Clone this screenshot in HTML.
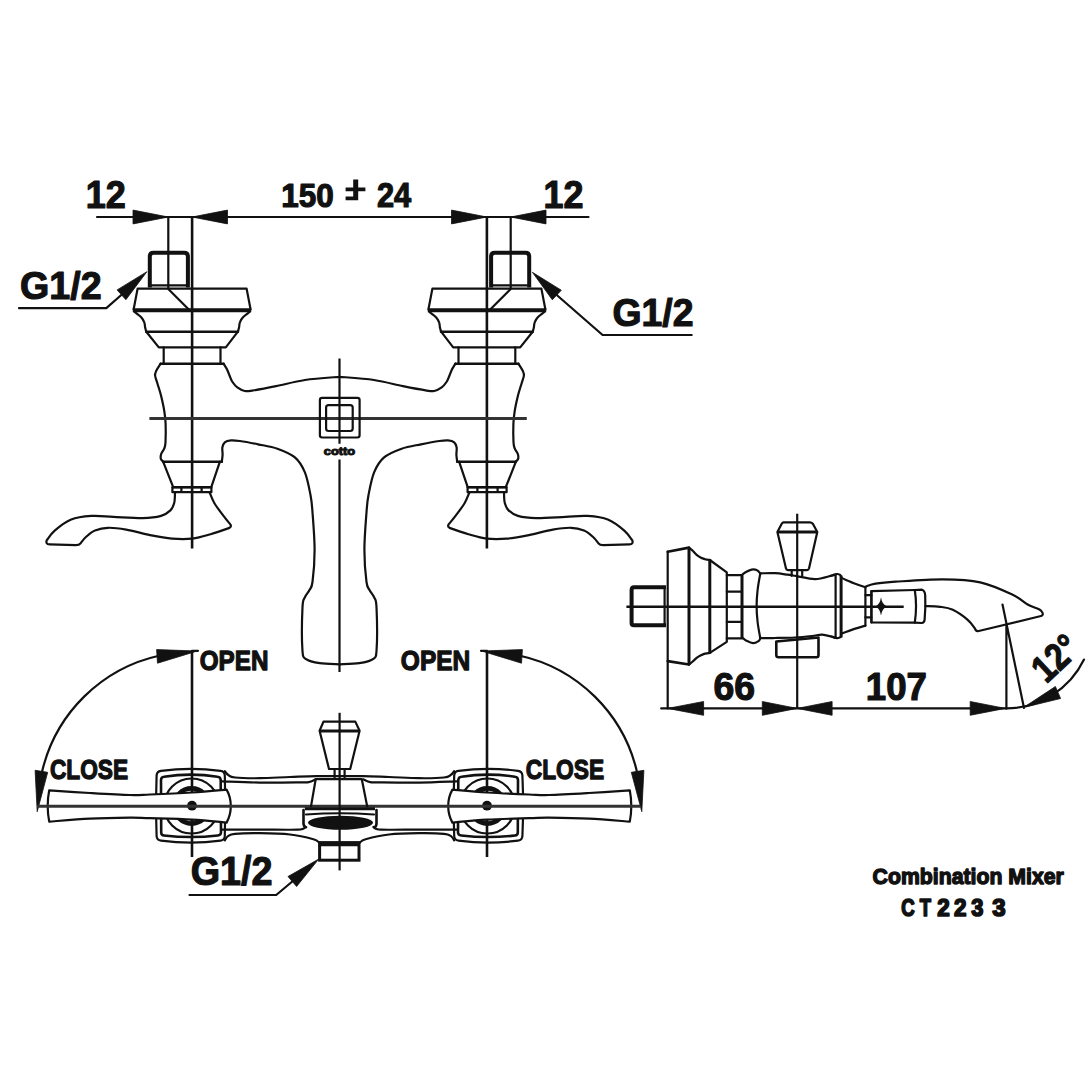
<!DOCTYPE html>
<html><head><meta charset="utf-8"><title>Combination Mixer CT2233</title>
<style>
html,body{margin:0;padding:0;background:#fff;width:1090px;height:1090px;overflow:hidden}
svg{display:block}
text{font-family:"Liberation Sans",sans-serif;font-weight:bold;fill:#111;stroke:#111;stroke-linejoin:round}
.s2{fill:none;stroke:#111;stroke-width:2.2;stroke-linejoin:round;stroke-linecap:round}
.s25{fill:none;stroke:#111;stroke-width:2.6;stroke-linecap:round}
.s3{fill:none;stroke:#111;stroke-width:3}
.s4{fill:none;stroke:#111;stroke-width:4;stroke-linejoin:round}
.c2{fill:none;stroke:#111;stroke-width:2.2}
.c25{fill:none;stroke:#111;stroke-width:2.6}
.c3{fill:none;stroke:#333;stroke-width:3}
.wf{fill:#fff}
.ah{fill:#111;stroke:#111;stroke-width:0.8;stroke-linejoin:round}
.pm{fill:none;stroke:#111;stroke-width:3.6}
.t28{font-size:38.5px}
.t29{font-size:40px}
.t25{font-size:34px}
.t20{font-size:27.5px}
.t19{font-size:26.5px}
.t16{font-size:21.5px}
.t18{font-size:25px}
.tiny{font-size:8px}
</style></head>
<body>
<svg width="1090" height="1090" viewBox="0 0 1090 1090">
<rect width="1090" height="1090" fill="#fff"/>
<g id="fv"><path class="s4" d="M149.8,287.5 V256.5 Q149.8,252.8 153.5,252.8 H184.2 Q187.9,252.8 187.9,256.5 V287.5"/>
<path class="s2" d="M151.5,285.4 H186.3"/>
<path class="s2" d="M168.3,217 V289 L188.8,309.5"/>
<path class="s2" d="M133.6,309.5 L137.6,288.6 H246.6 L250.6,309.5"/>
<path class="s4" d="M132.8,310.3 H251.2"/>
<path class="s2" d="M134.4,311.7 C135.5,312.6 139.5,315.4 141.2,317.2 C142.8,319 143.7,320.6 144.3,322.3 C145,324 144.8,325.7 145.1,327.3 C145.4,328.9 146.1,331 146.3,331.7"/>
<path class="s2" d="M249.8,311.7 C248.7,312.6 244.7,315.4 243,317.2 C241.3,319 240.5,320.6 239.9,322.3 C239.2,324 239.4,325.7 239.1,327.3 C238.8,328.9 238.1,331 237.9,331.7"/>
<path class="s25" d="M146.3,331.7 H237.9"/>
<path class="s2" d="M146.3,331.7 L158.8,347.4 H225.8 L237.9,331.7"/>
<path class="s2" d="M163.7,347.4 V363.7 M220.5,347.4 V363.7"/>
<path class="s25" d="M160.6,363.7 H223.6"/>
<path class="s2" d="M160.6,363.7 C159.9,364.9 157.2,368.8 156.3,370.8 C155.4,372.8 154.9,373.4 155.1,375.5 C155.3,377.6 156.5,380.2 157.5,383.7 C158.5,387.1 160.1,391.6 161.2,396.2 C162.3,400.8 163.6,406.5 164.3,411.1 C165,415.7 165.4,418.4 165.6,423.6 C165.8,428.8 165.7,438.1 165.5,442.3 C165.3,446.5 164.9,446.7 164.2,448.6 C163.5,450.5 161.9,452 161.3,453.6 C160.7,455.2 160.4,457 160.7,458.4 C161,459.8 162.7,461.1 163.1,461.7"/>
<path class="s2" d="M223.6,363.7 C224.2,364.8 226.3,367.9 227.3,370 C228.3,372.1 228.9,374.2 229.8,376.2 C230.7,378.2 231.2,380.1 232.5,382 C233.8,383.9 235.2,385.9 237.3,387.4 C239.4,388.9 242.3,390.5 244.8,391 C247.3,391.5 247.1,391.4 252.3,390.6 C257.5,389.8 267.2,388 276,386.2 C284.8,384.4 294.4,381.6 305,380 C315.6,378.4 333.8,377.3 339.5,376.8"/>
<path class="s25" d="M163.1,461.7 H221.8"/>
<path class="s2" d="M221.8,461.7 C221.9,460.6 222.5,457.2 222.6,454.8 C222.7,452.4 222,449.4 222.4,447.3 C222.8,445.2 223.4,443.5 224.8,442.3 C226.2,441.1 228.6,440.6 231.1,440.4 C233.6,440.2 235.3,440.4 239.8,441 C244.3,441.6 251.7,443 258,444.3 C264.3,445.6 271.2,446.5 277.4,448.7 C283.5,450.9 290.3,453.4 294.9,457.4 C299.5,461.3 302.3,466.1 304.9,472.4 C307.5,478.7 309.2,488.4 310.5,495 C311.8,501.6 311.8,503.2 312.5,512.3 C313.2,521.4 314.6,538.1 314.6,549.7 C314.6,561.3 313.4,575.3 312.5,582 C311.6,588.7 310.8,587.5 309.5,590 C308.2,592.5 306.1,594.4 304.9,597.2 C303.7,600.1 302.9,598.4 302.5,607.1 C302.1,615.8 301.8,640.9 302.4,649.6 C303,658.3 303.2,656.9 306.1,659.2 C309,661.5 314.2,662.4 319.8,663.2 C325.4,664.1 336.2,664.1 339.5,664.3"/>
<path class="s2" d="M163.1,461.7 L173.2,487.2 H211.3 L219.9,461.7"/>
<path class="s2" d="M172.2,487.4 H211.6 M172.5,492.2 H211.3 M172.4,487.4 V492.2 M211.4,487.4 V492.2 M181.4,487.4 V492.2 M201.6,487.4 V492.2"/>
<path class="s2" d="M175,492.5 C174.9,494.2 175,500 174.2,503 C173.4,506 172.6,508.2 170.4,510.4 C168.2,512.5 165.7,514.6 161.1,515.9 C156.5,517.2 150.8,518 142.8,518.1 C134.9,518.2 122,517.2 113.4,516.8 C104.8,516.4 98.4,515.4 91.4,515.9 C84.4,516.4 77.3,517 71.2,519.5 C65.1,522 58.8,527.1 54.7,530.6 C50.6,534.1 48,538.8 46.6,540.4 Q45.6,544.3 49.5,544.4 L75.8,545.2 Q79.2,545.2 80.6,543.3 C81.5,542.2 83.5,539.1 85.9,537 C88.3,534.9 91.3,532.1 95,530.6 C98.7,529.1 102.7,528 107.9,527.8 C113.1,527.6 119.2,528.4 126.2,529.6 C133.2,530.8 142.4,533.6 150.1,535.1 C157.8,536.6 165.1,538 172.1,538.6 C179.1,539.2 185.9,539.3 192.3,538.6 C198.7,537.9 204.4,536 210.6,534.2 C216.8,532.4 226.3,529 229.4,527.9 Q231.6,526.5 230.5,524.6 C229.3,523.1 226.2,519.5 223.5,515.9 C220.8,512.3 216.6,506.9 214.3,503 C212,499.1 210.4,494.2 209.6,492.5"/>
<path class="c25" d="M192.1,217 V548.5"/></g>
<use href="#fv" transform="matrix(-1,0,0,1,679,0)"/>
<path class="c3" d="M149.4,418.4 H526.8"/>
<path class="c2" d="M339.5,358.4 V443.7 M339.5,459.5 V672"/>
<rect class="s2" x="319.9" y="397.9" width="39.7" height="39.6" rx="2.2"/>
<rect class="s2" x="326.1" y="405.1" width="26.6" height="25.9" rx="2.5"/>
<text x="323.79" y="454.59" style="font-size:10.76px;stroke-width:1.00px" textLength="31.38" lengthAdjust="spacingAndGlyphs">cotto</text>
<path class="s2" d="M97,217 H588.5"/>
<path class="ah" d="M168.3,217 L133,223.9 L133,210.1Z"/>
<path class="ah" d="M192.1,217 L227.5,210.1 L227.5,223.9Z"/>
<path class="ah" d="M486.9,217 L451.5,223.9 L451.5,210.1Z"/>
<path class="ah" d="M510.7,217 L546,210.1 L546,223.9Z"/>
<text x="85.74" y="208.30" style="font-size:39.14px;stroke-width:1.20px" textLength="40.09" lengthAdjust="spacingAndGlyphs">12</text>
<text x="543.44" y="208.30" style="font-size:39.14px;stroke-width:1.20px" textLength="39.98" lengthAdjust="spacingAndGlyphs">12</text>
<text x="281.21" y="206.96" style="font-size:34.08px;stroke-width:1.20px" textLength="52.50" lengthAdjust="spacingAndGlyphs">150</text>
<text x="376.88" y="207.30" style="font-size:34.57px;stroke-width:1.20px" textLength="34.30" lengthAdjust="spacingAndGlyphs">24</text>
<path fill="#111" d="M345.6,187.4 H365.4 V191.2 H345.6Z M353.2,179.5 H358.2 V200.2 H353.2Z M345.6,196.4 H358.2 V200.2 H345.6Z"/>
<text x="20.10" y="298.61" style="font-size:39.46px;stroke-width:1.20px" textLength="81.53" lengthAdjust="spacingAndGlyphs">G1/2</text>
<path class="s2" d="M19,308.2 H106.3 L123,293.5"/>
<path class="ah" d="M146.9,271.7 L125.9,299.7 L117.1,289.9Z"/>
<text x="612.41" y="326.00" style="font-size:39.59px;stroke-width:1.20px" textLength="81.01" lengthAdjust="spacingAndGlyphs">G1/2</text>
<path class="s2" d="M691.7,335 H602.6 L555,293.5"/>
<path class="ah" d="M532.4,272.3 L561.3,290.2 L552.3,299.8Z"/>
<g id="tv"><path class="s2" d="M160,655.5 A155,155 0 0 0 42,772"/>
<path class="ah" d="M197.4,651 L156.6,649.6 L157.5,663.2Z"/>
<path class="s2" d="M192,650.8 H198"/>
<path class="ah" d="M37.2,811.7 L35.1,770.3 L47.7,772.3Z"/>
<path class="c25" d="M192,651 V857"/>
<path class="s2" d="M224.9,771.2 C225.4,771.8 226.3,773.8 228,774.8 C229.7,775.8 229.7,776.9 235,777.5 C240.3,778.1 250.8,778.3 260,778.2 C269.2,778.1 280.7,777.3 290,777 C299.3,776.7 307.8,776.3 316,776.2 C324.2,776.1 335.6,776.2 339.5,776.2"/>
<path class="s2" d="M222.5,781.4 C228.8,781.6 247.1,782.4 260,782.6 C272.9,782.8 291.9,782.5 300,782.4 C308.1,782.3 306.1,782.7 308.7,782.2 C311.3,781.7 314.5,779.8 315.7,779.3"/>
<path class="s2" d="M224.9,840.3 C225.4,839.6 226.3,837.3 228,836.2 C229.7,835.1 229.7,834.3 235,833.8 C240.3,833.3 250.8,833.1 260,833.2 C269.2,833.3 281.1,833.5 290,834.5 C298.9,835.5 308.6,837.9 313.4,839.2 C318.2,840.5 318.1,842 319,842.5"/>
<path class="s2" d="M222.5,829.7 C228.8,829.7 247.4,829.6 260,829.6 C272.6,829.6 290.4,830 298,829.6 C305.6,829.2 304.3,827.4 305.6,827"/>
<path class="s2" d="M161,770.8 Q191,767 220.5,770.8 Q224.6,771.3 224.8,775.5 Q225.8,806 224.8,836 Q224.6,840.2 220.5,840.6 Q191,844.6 161,840.6 Q156.8,840.2 156.6,836 Q155.2,806 156.6,775.5 Q156.8,771.3 161,770.8Z"/>
<path class="s25" d="M164,776.7 Q191,772.6 217.5,776.7 Q220.5,777 220.7,780 L221,832.5 Q220.8,835.3 217.8,835.5 Q191,838.6 164,835.5 Q161.2,835.3 161.2,832.5 L161,780 Q161.2,777 164,776.7Z"/>
<circle class="s2" cx="191.6" cy="806" r="27.5"/>
<circle cx="191.6" cy="806" r="17.6" fill="none" stroke="#111" stroke-width="4.6"/>
<path class="s2 wf" d="M49.2,790.3 C56,790.8 76.5,792.2 90,793 C103.5,793.8 120,794.8 130,795 C140,795.2 139.7,794.9 150,794.5 C160.3,794.1 179.2,793.3 192,792.5 C204.8,791.7 220.8,790.1 226.6,789.6 Q230.8,797 230.8,806 Q230.8,815 226.6,822.6 C220.8,822.1 204.8,820.3 192,819.6 C179.2,818.9 160.3,818.5 150,818.2 C139.7,817.9 140,817.5 130,817.6 C120,817.7 103.5,817.9 90,818.6 C76.5,819.3 56,821.1 49.2,821.6 Q46.2,806 49.2,790.3Z"/>
<circle cx="192" cy="805.7" r="4.9" fill="#111"/></g>
<use href="#tv" transform="matrix(-1,0,0,1,679,0)"/>
<path class="c3" d="M37,806.2 H640"/>
<text x="199.78" y="670.47" style="font-size:28.17px;stroke-width:1.30px" textLength="68.62" lengthAdjust="spacingAndGlyphs">OPEN</text>
<text x="400.87" y="670.47" style="font-size:28.17px;stroke-width:1.30px" textLength="69.45" lengthAdjust="spacingAndGlyphs">OPEN</text>
<text x="49.94" y="779.47" style="font-size:28.03px;stroke-width:1.30px" textLength="78.20" lengthAdjust="spacingAndGlyphs">CLOSE</text>
<text x="525.74" y="779.47" style="font-size:28.03px;stroke-width:1.30px" textLength="78.40" lengthAdjust="spacingAndGlyphs">CLOSE</text>
<path class="s2" d="M323.5,721.6 H355.3 L359.6,730.7 L350.2,769 H329 L319.6,730.7Z"/>
<path class="s3" d="M319.8,730.9 H359.4"/>
<path class="s2" d="M334.6,769 V777.5 M344.6,769 V777.5"/>
<path class="s2" d="M315.7,779.2 H361.8 L367.2,806.4 M315.7,779.2 L311,806.4"/>
<path class="s3" d="M304.8,808.8 H375"/>
<path class="s25" d="M303.5,810 V823.6 Q303.8,826.8 306,827.3 M376.5,810 V823.8 Q376.2,826.8 374,827.3"/>
<path class="s2" d="M306,814.5 Q340,812 374,814.5"/>
<ellipse cx="340.5" cy="822.8" rx="32.5" ry="7" fill="#111"/>
<rect class="s3" x="319.6" y="842.6" width="39.4" height="17.6"/>
<path class="s2" d="M319.6,845.2 H359"/>
<path class="c2" d="M339.6,712.8 V870.4"/>
<text x="190.79" y="885.19" style="font-size:40.54px;stroke-width:1.20px" textLength="81.74" lengthAdjust="spacingAndGlyphs">G1/2</text>
<path class="s2" d="M189.5,895 H276.2 L292.3,881.5"/>
<path class="ah" d="M318.7,859.1 L296.6,886.5 L288,876.5Z"/>
<path class="c25" d="M626.4,606.7 H903.7"/>
<path class="s4" d="M666,587.3 H634 Q631.6,587.3 631.6,590 V623 Q631.6,625.3 634,625.3 H666"/>
<path class="s2" d="M664.6,588 V624.5"/>
<path class="s25" d="M667.7,551.7 L689,547.6 M667.7,661.1 L689,664.5"/>
<path class="s3" d="M689,547.6 V664.5"/>
<path class="s2" d="M667.7,551.7 V708.4"/>
<path class="s2" d="M689,547.6 C689.7,548.2 691.7,549.7 693,551 C694.3,552.3 695.7,554.1 697,555.2 C698.3,556.3 699.7,557.1 701,557.8 C702.3,558.5 703.5,558.8 705,559.2 C706.5,559.6 709.4,559.9 710.3,560"/>
<path class="s2" d="M689,664.5 C689.7,664 691.7,662.4 693,661.2 C694.3,660.1 695.7,658.6 697,657.6 C698.3,656.6 699.7,655.9 701,655.2 C702.3,654.5 703.5,654 705,653.6 C706.5,653.2 709.4,652.9 710.3,652.8"/>
<path class="s3" d="M709.8,560 V652.8"/>
<path class="s2" d="M709.8,560 L726.8,572.3 V641.8 L709.8,652.8"/>
<path class="s2" d="M726.8,575.1 H742 M726.8,638.4 H742 M726.8,591.6 H742 M726.8,621.9 H742"/>
<path class="s3" d="M742,574.5 V638.8"/>
<path class="s2" d="M742.5,574.4 C743.1,574 744.5,572.8 746,572 C747.5,571.2 749.8,569.9 751.6,569.6 C753.5,569.3 755.7,569.6 757.1,570.3 C758.5,570.9 759.8,573 760.3,573.5"/>
<path class="s2" d="M742.5,637.8 C743.1,638.2 744.2,639.6 746,640.5 C747.8,641.4 750.9,643.1 753,643.2 C755.1,643.3 757.3,641.9 758.5,641.1 C759.7,640.3 760,638.7 760.3,638.2"/>
<path class="s2" d="M760.3,573.5 C759.8,576.2 758.2,584.6 757.6,590 C757,595.4 756.6,600.7 756.6,606 C756.6,611.3 757,616.6 757.6,622 C758.2,627.4 759.8,635.5 760.3,638.2"/>
<path class="s2" d="M760.3,573.3 C762.8,573.3 770.5,573 775,573.2 C779.5,573.4 783.9,574.2 787.5,574.7 C791.1,575.2 792.1,575.4 796.7,576.1 C801.3,576.8 809.2,579.2 815,579.1 C820.8,579 828.2,576.4 831.6,575.6 C835,574.9 834.9,574.8 835.5,574.6"/>
<path class="s2" d="M760.3,638.2 C762.8,638.2 769.2,638.1 775,638 C780.8,637.9 788.8,637.8 795,637.5 C801.2,637.2 807.5,636.5 812,636 C816.5,635.5 818.7,634.5 822,634.6 C825.3,634.7 829.4,636.1 831.6,636.6 C833.9,637.1 834.9,637.4 835.5,637.6"/>
<path class="s2" d="M835.6,575.1 V637.7"/>
<path class="s2" d="M831.6,575.6 Q834.5,573.8 837.5,574 Q840.6,574.4 841.1,576.5 M831.6,636.6 Q834.5,638.4 837.5,638.2 Q840.6,637.8 841.1,636"/>
<path class="s3" d="M841.1,575.6 V637.5"/>
<path class="s2" d="M841.7,578.1 C844,579 851.3,582.2 855.3,583.7 C859.2,585.2 863.7,586.6 865.4,587.2"/>
<path class="s2" d="M841.7,633.6 C844,632.8 851.3,629.9 855.3,628.6 C859.2,627.3 863.7,626.1 865.4,625.6"/>
<path class="s2" d="M865.4,587 V625.8"/>
<path class="s2" d="M865.4,595.2 H871.4 M865.4,617.3 H871.4"/>
<path class="s2" d="M783.4,522.4 H810 Q812,522.6 813,524 L817.3,532.1 L809,568.5 Q808.5,570.1 807,570.1 H788 Q786.4,570.1 786,568.5 L777.4,532.1 L781.6,524 Q782.4,522.6 783.4,522.4Z"/>
<path class="s3" d="M777.6,532.1 H817.1"/>
<path class="s2" d="M791.7,570.1 V575.8 M802.2,570.1 V575.8"/>
<path class="s25" d="M776.3,641.5 V655 Q776.3,657.3 778.5,657.3 H816.5 Q818.5,657.3 818.5,655 V639 M776.3,641.5 L818.5,637.5"/>
<path class="s2" d="M871.4,591.2 L914.8,590 L921.9,589.7 Q924.9,590.5 925.2,595.3 Q925.8,607 924.6,620 Q924,622.9 921.9,623 L914.8,622.6 L871.4,622.5 Z"/>
<path class="s2" d="M914.8,590 Q917.3,606 914.8,622.6"/>
<path class="s2" d="M871.4,591.2 V622.5"/>
<path d="M881,597.3 Q882,604.5 887,606.4 Q882,608.3 881,615.5 Q880,608.3 875.4,606.4 Q880,604.5 881,597.3Z" fill="#111"/>
<path class="s2" d="M865.4,586.7 C867.1,586.2 870.5,584.5 875.5,583.7 C880.5,582.9 884.4,582.4 895.6,581.7 C906.8,581 928.7,579.3 942.8,579.4 C956.9,579.5 968.6,579.8 980.2,582.4 C991.9,585 1004.8,591.1 1012.7,594.8 C1020.6,598.5 1023.1,602 1027.6,604.5 C1032.1,607 1037,608.1 1039.5,609.5 C1042,610.9 1042.1,612.4 1042.6,613 Q1043.5,615.5 1040,616.3 L977.7,631.2 Q975.5,631 975,628.5 C973.8,627 971.4,622.9 967.7,619.8 C964,616.7 957.4,612 952.8,609.8 C948.2,607.6 944.6,607.4 940,606.8 C935.4,606.2 927.8,606.2 925.3,606.1"/>
<path class="c2" d="M797.2,513.7 V708.4"/>
<path class="s2" d="M661.2,708.4 H1006.4"/>
<path class="ah" d="M667.6,708.4 L703.6,701.5 L703.6,715.3Z"/>
<path class="ah" d="M797.2,708.4 L762.3,715.3 L762.3,701.5Z"/>
<path class="ah" d="M797.2,708.4 L832.1,701.5 L832.1,715.3Z"/>
<path class="ah" d="M1005.4,708.4 L970.2,715.3 L970.2,701.5Z"/>
<path class="s2" d="M1006.4,624 V708.4 M1002.5,604.5 L1024,708"/>
<path class="s2" d="M1006.4,708.4 A86.4,86.4 0 0 0 1084,659.6"/>
<path class="ah" d="M1023.5,707.5 L1055.4,686.5 L1060.6,698.5Z"/>
<text x="713.40" y="700.31" style="font-size:38.59px;stroke-width:1.20px" textLength="41.58" lengthAdjust="spacingAndGlyphs">66</text>
<text x="865.80" y="700.31" style="font-size:38.59px;stroke-width:1.20px" textLength="61.18" lengthAdjust="spacingAndGlyphs">107</text>
<text transform="translate(1046.2,684.2) rotate(-43)" x="0" y="0" style="font-size:38px;stroke-width:1.2px" textLength="48.8" lengthAdjust="spacingAndGlyphs">12°</text>
<text x="872.55" y="884.27" style="font-size:22.84px;stroke-width:1.40px" textLength="191.28" lengthAdjust="spacingAndGlyphs">Combination Mixer</text>
<text x="901.21" y="915.61" style="font-size:23.80px;stroke-width:1.70px" textLength="13.44" lengthAdjust="spacingAndGlyphs">C</text>
<text x="919.77" y="915.85" style="font-size:24.49px;stroke-width:1.70px" textLength="11.29" lengthAdjust="spacingAndGlyphs">T</text>
<text x="937.18" y="915.85" style="font-size:24.14px;stroke-width:1.70px" textLength="12.49" lengthAdjust="spacingAndGlyphs">2</text>
<text x="954.08" y="915.85" style="font-size:24.14px;stroke-width:1.70px" textLength="12.49" lengthAdjust="spacingAndGlyphs">2</text>
<text x="971.21" y="915.61" style="font-size:23.80px;stroke-width:1.70px" textLength="12.13" lengthAdjust="spacingAndGlyphs">3</text>
<text x="992.27" y="915.61" style="font-size:23.80px;stroke-width:1.70px" textLength="13.35" lengthAdjust="spacingAndGlyphs">3</text>
</svg>
</body></html>
